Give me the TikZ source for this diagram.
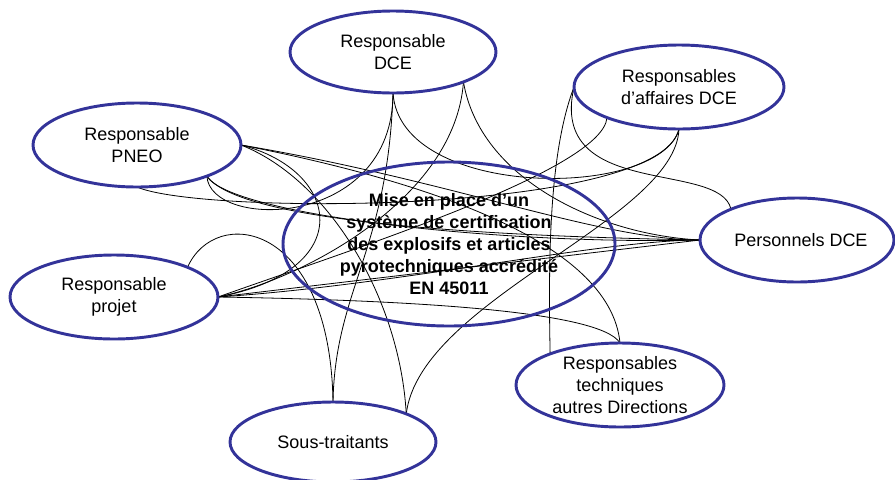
\documentclass[tikz,border=0pt]{standalone}
\usepackage{fontspec}
\setmainfont{Liberation Sans}
\usetikzlibrary{shapes.geometric}
\definecolor{oblue}{RGB}{51,51,153}
\pgfdeclarelayer{bg}
\pgfsetlayers{bg,main}
\begin{document}
\begin{tikzpicture}[x=0.75pt,y=-0.75pt,
  bub/.style={ellipse, draw=oblue, line width=2.2pt, inner sep=0pt, outer sep=0pt, minimum width=156pt, minimum height=63pt},
  lbl/.style={align=center, font=\fontsize{13.5}{16.5}\selectfont, inner sep=0pt},
  clbl/.style={align=center, font=\fontsize{13.5}{16.5}\selectfont\bfseries, inner sep=0pt},
  link/.style={line width=0.6pt, black}]
\useasboundingbox (0,0) rectangle (895,479);

\node[bub, minimum width=249pt, minimum height=123pt] (c) at (449,244) {};
\node[bub, minimum width=154.5pt, minimum height=61.5pt] (dce) at (393,52) {};
\node[bub] (pneo) at (137,145) {};
\node[bub, minimum width=157.5pt] (aff) at (679,87) {};
\node[bub, minimum width=145.5pt] (pers) at (797,240) {};
\node[bub] (proj) at (114,297) {};
\node[bub, minimum width=154.5pt, minimum height=60pt] (sous) at (333,442) {};
\node[bub] (tech) at (620,385) {};

\node[clbl] (ct) at (c) {Mise en place d’un\\système de certification\\des explosifs et articles\\pyrotechniques accrédité\\EN 45011};
\node[lbl] (dcet) at (dce) {Responsable\\DCE};
\node[lbl] (pneot) at (pneo) {Responsable\\PNEO};
\node[lbl] (afft) at (aff) {Responsables\\d\symbol{"27}affaires DCE};
\node[lbl] (perst) at ([xshift=3pt]pers) {Personnels DCE};
\node[lbl] (projt) at (proj) {Responsable\\projet};
\node[lbl] (sonst) at (sous) {Sous-traitants};
\node[lbl] (techt) at (tech) {Responsables\\techniques\\autres Directions};

\begin{pgfonlayer}{bg}
\draw[link] (dce.270) .. controls (393,230) and (210,230) .. (pneo.-24);
\draw[link] (dce.270) .. controls (388,250) and (335,290) .. (sous.90);
\draw[link] (dce.270) .. controls (400,200) and (660,200) .. (aff.270);
\draw[link] (dce.-23) .. controls (480,180) and (600,235) .. (pers.180);
\draw[link] (dce.-23) .. controls (455,200) and (300,280) .. (proj.0);
\draw[link] (pneo.0) .. controls (340,170) and (360,270) .. (proj.0);
\draw[link] (pneo.0) .. controls (330,180) and (400,300) .. (sous.21);
\draw[link] (pneo.0) .. controls (450,180) and (600,240) .. (pers.180);
\draw[link] (pneo.0) .. controls (420,180) and (610,240) .. (tech.90);
\draw[link] (pneo.-24) .. controls (230,215) and (500,245) .. (pers.180);
\draw[link] (pneo.-24) .. controls (240,222) and (480,236) .. (pers.180);
\draw[link] (pneo.270) .. controls (200,215) and (660,215) .. (aff.270);
\draw[link] (aff.180) .. controls (550,150) and (548,250) .. (tech.156);
\draw[link] (aff.180) .. controls (548,200) and (720,160) .. (pers.155);
\draw[link] (aff.-157) .. controls (603,170) and (350,250) .. (proj.0);
\draw[link] (aff.270) .. controls (675,220) and (420,300) .. (sous.21);
\draw[link] (proj.0) .. controls (400,285) and (600,240) .. (pers.180);
\draw[link] (proj.0) -- (pers.180);
\draw[link] (proj.0) .. controls (400,300) and (600,310) .. (tech.90);
\draw[link] (proj.22) .. controls (215,205) and (330,220) .. (sous.90);
\end{pgfonlayer}
\end{tikzpicture}
\end{document}
